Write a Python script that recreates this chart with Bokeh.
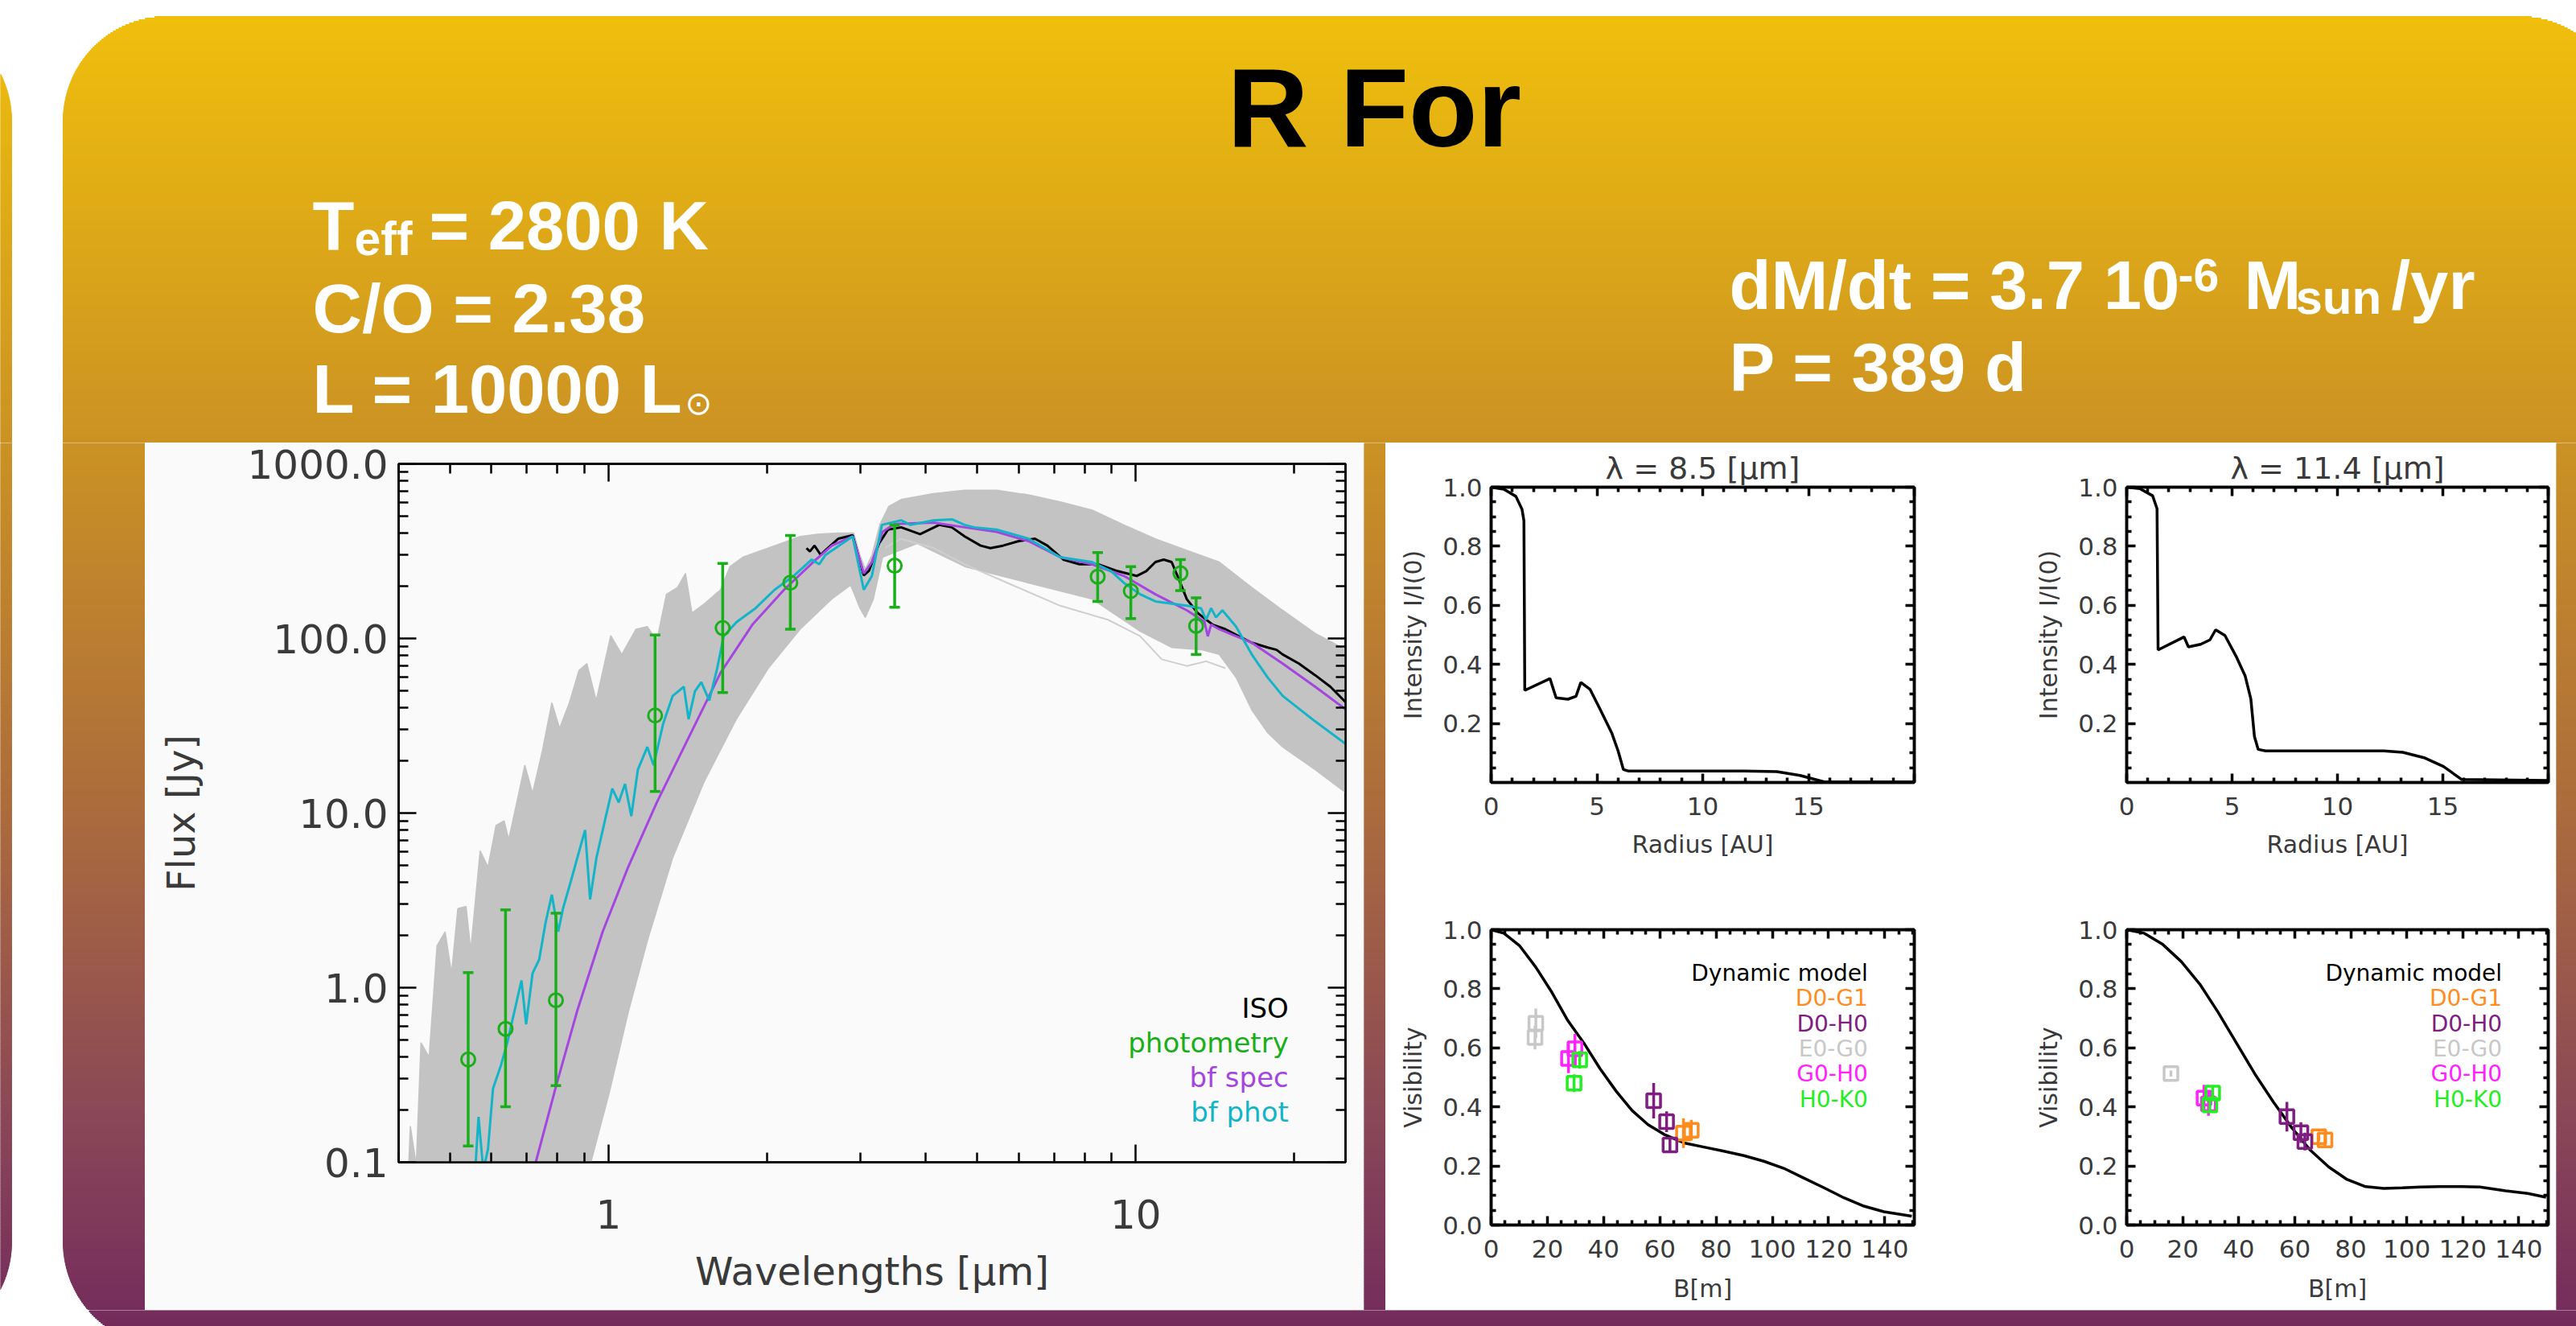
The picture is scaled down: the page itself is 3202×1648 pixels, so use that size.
import math
from bokeh.plotting import figure
from bokeh.layouts import column, row
from bokeh.models import (Range1d, FixedTicker, PrintfTickFormatter, CustomJSTickFormatter,
                          LinearAxis, LogAxis, Label, ColumnDataSource)
from bokeh.core.properties import value
from bokeh.embed import file_html
from bokeh.resources import INLINE

# ---------------------------------------------------------------- SED data
# photometry (wavelength in micron, flux in Jy, with error bar ends)
PHOT_WL = [0.542, 0.638, 0.795, 1.226, 1.647, 2.213, 3.49, 8.47, 9.79, 12.16, 13.02]
PHOT_F = [0.388, 0.581, 0.847, 36.2, 114.7, 208.5, 261, 226, 187, 236, 118]
PHOT_HI = [1.22, 2.79, 2.67, 104.7, 269, 389, 447, 310, 258, 283, 171]
PHOT_LO = [0.124, 0.208, 0.275, 13.3, 49, 113, 151, 163, 130, 188, 81]

# best fit to the photometry (bf phot)
BFPHOT_WL = [
    0.559, 0.567, 0.579, 0.591, 0.604, 0.625, 0.643, 0.661, 0.684, 0.698,
    0.718, 0.739, 0.760, 0.781, 0.803, 0.820, 0.849, 0.873, 0.903, 0.923,
    0.949, 0.989, 1.017, 1.046, 1.075, 1.105, 1.137, 1.185, 1.218, 1.270,
    1.324, 1.390, 1.419, 1.459, 1.500, 1.553, 1.608, 1.654, 1.749, 1.901,
    2.066, 2.245, 2.430, 2.510, 2.580, 2.904, 3.050, 3.160, 3.300, 3.590,
    3.740, 4.130, 4.480, 4.740, 4.940, 5.450, 6.260, 7.190, 8.260, 8.980,
    9.500, 10.20, 10.90, 12.50, 13.30, 13.60, 13.90, 14.20, 14.60, 15.50,
    16.60, 17.80, 19.00, 21.90, 25.10]
BFPHOT_F = [
    0.09, 0.182, 0.09, 0.119, 0.264, 0.357, 0.484, 0.70, 1.10, 0.616,
    1.21, 1.45, 2.36, 3.41, 2.09, 2.84, 4.09, 5.55, 8.0, 3.2,
    5.55, 9.6, 13.8, 11.5, 14.7, 9.6, 17.7, 23.9, 18.8, 32.5,
    46.9, 52.9, 34.5, 49.8, 56.2, 44.1, 67.5, 103, 124, 149,
    190, 228, 283, 266, 301, 384, 190, 228, 447, 475,
    447, 475, 481, 447, 433, 420, 373, 292, 274, 243,
    208, 179, 163, 154, 149, 128, 149, 132, 145, 117,
    81, 59.7, 46.9, 33.5, 24.7]

# best fit to the spectrum (bf spec)
BFSPEC_WL = [
    0.700, 0.728, 0.797, 0.873, 0.975, 1.090, 1.235, 1.419, 1.631, 1.875,
    2.153, 2.475, 2.653, 2.904, 3.050, 3.160, 3.310, 3.490, 4.130, 4.740,
    5.450, 6.260, 7.190, 8.260, 9.500, 10.90, 12.50, 13.50, 13.70, 13.90,
    14.40, 16.60, 19.00, 21.90, 25.10]
BFSPEC_F = [
    0.06, 0.10, 0.279, 0.741, 2.09, 4.91, 11.5, 27.0, 63.5, 120,
    190, 283, 340, 384, 236, 274, 408, 452, 461, 433,
    408, 361, 292, 266, 228, 179, 145, 125, 103, 120,
    113, 94.6, 71.8, 52.9, 39]

# ISO spectrum
ISO_WL = [
    2.375, 2.410, 2.459, 2.527, 2.580, 2.730, 2.904, 3.050, 3.120, 3.260,
    3.390, 3.590, 3.900, 4.240, 4.480, 4.740, 5.080, 5.300, 5.600, 6.000,
    6.440, 6.800, 7.290, 7.820, 8.500, 9.240, 10.04, 10.47, 10.90, 11.30,
    11.70, 12.10, 12.50, 13.10, 14.00, 14.80, 15.70, 16.60, 17.80, 18.50,
    19.00, 20.40, 21.90, 23.40, 25.10]
ISO_F = [
    329, 315, 340, 301, 320, 373, 390, 230, 244, 350,
    420, 433, 396, 447, 433, 384, 340, 329, 340, 361,
    373, 340, 283, 266, 266, 243, 228, 243, 274, 283,
    274, 215, 168, 140, 120, 113, 103, 94.6, 88.7, 86.1,
    81, 71.8, 61.6, 52.9, 42.7]

# envelope of the model grid
GRID_TOP_WL = [
    0.418, 0.421, 0.432, 0.441, 0.457, 0.473, 0.490, 0.504, 0.518, 0.537,
    0.548, 0.571, 0.591, 0.612, 0.634, 0.647, 0.670, 0.694, 0.718, 0.749,
    0.781, 0.808, 0.843, 0.879, 0.910, 0.948, 1.010, 1.060, 1.128, 1.185,
    1.235, 1.288, 1.352, 1.400, 1.440, 1.520, 1.631, 1.700, 1.798, 1.954,
    2.124, 2.310, 2.510, 2.730, 2.920, 3.000, 3.070, 3.160, 3.270, 3.400,
    3.590, 4.130, 4.740, 5.450, 6.260, 7.190, 8.270, 9.500, 10.90, 12.50,
    14.40, 16.60, 19.00, 21.90, 25.10]
GRID_TOP_F = [
    0.096, 0.161, 0.096, 0.484, 0.40, 1.74, 2.09, 1.21, 2.84, 2.92,
    1.64, 6.08, 4.91, 8.49, 9.03, 7.08, 11.5, 18.8, 13.0, 22.6,
    42.8, 30.6, 42.8, 65.5, 71.8, 44.1, 104, 81, 113, 117,
    97, 179, 196, 236, 140, 158, 190, 258, 292, 320,
    350, 384, 396, 401, 401, 300, 250, 300, 447, 570,
    625, 676, 706, 706, 664, 606, 543, 447, 372, 320,
    274, 196, 145, 107, 86]
GRID_BOT_WL = [
    0.923, 1.003, 1.090, 1.185, 1.324, 1.520, 1.748, 2.010, 2.310, 2.650,
    2.880, 3.000, 3.070, 3.180, 3.310, 3.850, 4.740, 6.260, 8.270, 10.20,
    11.70, 13.40, 14.40, 15.50, 16.60, 17.80, 19.00, 21.90, 25.10]
GRID_BOT_F = [
    0.096, 0.248, 0.72, 1.85, 5.55, 15.2, 34.5, 67.5, 113, 168,
    202, 149, 132, 168, 292, 350, 258, 208, 168, 110,
    88.8, 86, 81, 59.8, 39, 28.8, 23.9, 17.7, 13.0]
# lowest model of the grid
GRID_LOW_WL = [3.35, 3.59, 4.13, 4.74, 5.84, 7.19, 8.86, 10.2, 11.2, 12.5, 13.6, 14.8]
GRID_LOW_F = [330, 372, 330, 266, 202, 154, 128, 103, 76, 69.6, 74, 67.5]

SED_KEYS = ["ISO", "photometry", "bf spec", "bf phot"]

# ---------------------------------------------------------------- intensity profiles
I85_R = [0, 0.6, 1.17, 1.46, 1.55, 1.59, 2.78, 3.07, 3.63, 4.01, 4.24, 4.67, 5.15,
         5.71, 6.0, 6.25, 6.47, 11.96, 13.5, 14.6, 15.74, 20]
I85_I = [1.0, 0.993, 0.969, 0.925, 0.886, 0.312, 0.352, 0.287, 0.282, 0.292, 0.339, 0.316,
         0.248, 0.166, 0.107, 0.044, 0.039, 0.039, 0.037, 0.024, 0.002, 0.002]
I114_R = [0, 0.62, 1.23, 1.44, 1.49, 2.72, 2.93, 3.51, 3.95, 4.22, 4.66, 5.18, 5.62,
          5.89, 6.06, 6.24, 6.59, 12.2, 13.1, 14.15, 15.03, 15.9, 20]
I114_I = [1.0, 0.995, 0.971, 0.927, 0.449, 0.493, 0.459, 0.468, 0.483, 0.517, 0.498, 0.429,
          0.361, 0.283, 0.156, 0.112, 0.107, 0.107, 0.102, 0.083, 0.054, 0.01, 0.007]

# ---------------------------------------------------------------- visibilities
V85_B = [0, 4.55, 10.2, 15.9, 21.6, 27.3, 33, 38.7, 44.4, 50.1, 55.8, 61.5, 68.6, 75.7,
         82.8, 89.9, 97, 104.1, 111.2, 118.4, 125.5, 132.6, 139.7, 149.6]
V85_V = [1.0, 0.988, 0.945, 0.873, 0.788, 0.692, 0.616, 0.53, 0.454, 0.388, 0.34, 0.307,
         0.278, 0.264, 0.25, 0.235, 0.216, 0.192, 0.159, 0.126, 0.092, 0.064, 0.045, 0.030]
V114_B = [0, 6.3, 12.9, 19.5, 26.1, 32.6, 39.2, 45.8, 52.4, 58.9, 65.5, 72.1, 78.7, 85.3,
          91.8, 98.4, 105, 111.6, 119.5, 126.1, 135.3, 143.2, 149.7]
V114_V = [1.0, 0.988, 0.95, 0.892, 0.816, 0.721, 0.616, 0.511, 0.416, 0.33, 0.254, 0.197,
          0.154, 0.13, 0.124, 0.126, 0.129, 0.13, 0.13, 0.129, 0.116, 0.107, 0.094]

BASELINES = ["D0-G1", "D0-H0", "E0-G0", "G0-H0", "H0-K0"]
BASELINE_COLORS = ["#ff8c1e", "#7e1e80", "#c8c8c8", "#ff22ff", "#22ee22"]

# measured visibilities at 8.5 micron: baseline -> (B [m], V, error)
OBS85 = {
    "D0-G1": ([68.4, 71.2], [0.311, 0.321], [0.05, 0.035]),
    "D0-H0": ([57.8, 62.4, 63.6], [0.421, 0.35, 0.271], [0.06, 0.035, 0.02]),
    "E0-G0": ([15.9, 15.6], [0.683, 0.635], [0.05, 0.04]),
    "G0-H0": ([29.8, 27.5], [0.597, 0.564], [0.05, 0.05]),
    "H0-K0": ([31.5, 29.5], [0.559, 0.48], [0.03, 0.03]),
}
# measured visibilities at 11.4 micron
OBS114 = {
    "D0-G1": ([68.6, 70.8], [0.299, 0.288], [0.015, 0.02]),
    "D0-H0": ([57.2, 62.2, 63.6], [0.367, 0.313, 0.283], [0.05, 0.035, 0.03]),
    "E0-G0": ([15.8], [0.513], [0.01]),
    "G0-H0": ([27.6, 29.2], [0.43, 0.41], [0.045, 0.04]),
    "H0-K0": ([30.7, 29.7], [0.447, 0.407], [0.02, 0.02]),
}

# ---------------------------------------------------------------- styling
TICK_FONT = "DejaVu Sans"
HEAD_FONT = "Liberation Sans"
INK = "#3a3a3a"
GREEN = "#1aaf1a"
PURPLE = "#a545e0"
CYAN = "#14b4c8"
GRID_GREY = "#c3c3c3"

PAGE_W, PAGE_H = 3202, 1648
HEAD_H = 550          # header band
BODY_H = 1078         # band holding the plots

# rounded slide panels: left, top, right, bottom, radius
PANELS = [(78, 20, 3260, 1673, 130), (-3000, 20, 14, 1673, 130)]
GRADIENT = [(0, (241, 193, 11)), (560, (202, 145, 36)), (1000, (172, 108, 60)),
            (1400, (137, 70, 88)), (1648, (116, 43, 92))]


def unalign(p):
    try:
        p.frame_align = False
    except AttributeError:
        pass
    return p


def shade(y):
    for (ya, ca), (yb, cb) in zip(GRADIENT, GRADIENT[1:]):
        if y <= yb:
            t = (y - ya) / (yb - ya)
            return "#%02x%02x%02x" % tuple(round(a + (b - a) * t) for a, b in zip(ca, cb))
    return "#%02x%02x%02x" % GRADIENT[-1][1]


def page_tile(x0, x1, y0, y1, step=2):
    """A piece of the slide background in page pixel coordinates."""
    f = figure(width=x1 - x0, height=y1 - y0, x_range=Range1d(x0, x1), y_range=Range1d(y1, y0),
               title=None, output_backend="svg", toolbar_location=None, min_border=0,
               x_axis_location=None, y_axis_location=None,
               background_fill_color="white", border_fill_color="white", outline_line_color=None)
    unalign(f)
    f.grid.visible = False
    lefts, rights, tops, bottoms, colors = [], [], [], [], []
    for yt in range(y0, y1, step):
        yc = yt + step / 2
        col = shade(yc)
        for pl, pt, pr, pb, r in PANELS:
            if yc < pt or yc > pb:
                continue
            if yc < pt + r:
                d = pt + r - yc
            elif yc > pb - r:
                d = yc - (pb - r)
            else:
                d = 0
            inset = r - math.sqrt(max(r * r - d * d, 0))
            a, b = max(pl + inset, x0), min(pr - inset, x1)
            if a < b:
                lefts.append(a); rights.append(b)
                tops.append(yt); bottoms.append(yt + step)
                colors.append(col)
    if lefts:
        f.quad(left=lefts, right=rights, top=tops, bottom=bottoms,
               fill_color=colors, line_color=colors, line_width=1)
    return f


def style_axis(ax, ticks, minor, fmt, major_len, minor_len, lw, font_px, standoff):
    ax.ticker = FixedTicker(ticks=ticks, minor_ticks=minor)
    ax.formatter = fmt
    ax.axis_line_color = "black"
    ax.axis_line_width = lw
    ax.major_tick_in = major_len
    ax.major_tick_out = 0
    ax.minor_tick_in = minor_len
    ax.minor_tick_out = 0
    ax.major_tick_line_color = "black"
    ax.major_tick_line_width = lw
    ax.minor_tick_line_color = "black"
    ax.minor_tick_line_width = lw
    ax.major_label_text_font = TICK_FONT
    ax.major_label_text_font_size = f"{font_px}px"
    ax.major_label_text_color = INK
    ax.major_label_standoff = standoff


def boxed(p, log, xt, xm, yt, ym, xfmt, yfmt, major_len, minor_len, lw, font_px,
          x_stand, y_stand, xlabel, ylabel, label_px, xlab_stand, ylab_stand):
    axis_type = LogAxis if log else LinearAxis
    top, right = axis_type(), axis_type()
    p.add_layout(top, "above")
    p.add_layout(right, "right")
    blank = CustomJSTickFormatter(code="return ''")
    style_axis(p.below[0], xt, xm, xfmt, major_len, minor_len, lw, font_px, x_stand)
    style_axis(p.left[0], yt, ym, yfmt, major_len, minor_len, lw, font_px, y_stand)
    style_axis(top, xt, xm, blank, major_len, minor_len, lw, 0, 0)
    style_axis(right, yt, ym, blank, major_len, minor_len, lw, 0, 0)
    for ax, text, stand in [(p.below[0], xlabel, xlab_stand), (p.left[0], ylabel, ylab_stand)]:
        ax.axis_label = text
        ax.axis_label_text_font = TICK_FONT
        ax.axis_label_text_font_size = f"{label_px}px"
        ax.axis_label_text_font_style = "normal"
        ax.axis_label_text_color = INK
        ax.axis_label_standoff = stand
    p.outline_line_color = "black"
    p.outline_line_width = lw
    p.grid.visible = False


# ---------------------------------------------------------------- header
header = page_tile(0, PAGE_W, 0, HEAD_H)
BASELINE_LIFT = 0.335   # label anchor sits this many em above the drawn baseline


def say(x, y, text, px, color="white", font=HEAD_FONT, style="bold"):
    header.add_layout(Label(x=x, y=y - BASELINE_LIFT * px, text=text, text_font=font,
                            text_font_size=f"{px}px", text_font_style=style, text_color=color,
                            text_baseline="alphabetic", text_align="left"))


say(1525, 180, "R For", 140, color="black")
say(388, 308, "T", 85)
say(440, 316, "eff", 59)
say(533, 308, "= 2800 K", 85)
say(388, 411, "C/O = 2.38", 85)
say(388, 511, "L = 10000 L", 85)
say(851, 514, "⊙", 40, font="DejaVu Sans", style="normal")
say(2149, 382, "dM/dt = 3.7 10", 85)
say(2707, 361, "-6", 57)
say(2789, 382, "M", 85)
say(2853, 389, "sun", 60)
say(2972, 382, "/yr", 85)
say(2149, 484, "P = 389 d", 85)

# ---------------------------------------------------------------- SED
SED_BG = "#fafafa"
sed = figure(width=1515, height=BODY_H, x_axis_type="log", y_axis_type="log",
             x_range=Range1d(0.4, 25), y_range=Range1d(0.1, 1000), title=None,
             output_backend="svg", toolbar_location=None,
             min_border_left=315, min_border_right=23, min_border_top=26, min_border_bottom=184,
             background_fill_color=SED_BG, border_fill_color=SED_BG)
unalign(sed)

sed_xminor = [m / 10 for m in range(4, 10)] + list(range(2, 10)) + [20]
sed_yminor = [m * 10.0 ** k for k in range(-1, 3) for m in range(2, 10)]
boxed(sed, True, [1, 10], sed_xminor, [0.1, 1, 10, 100, 1000], sed_yminor,
      PrintfTickFormatter(format="%d"), PrintfTickFormatter(format="%.1f"),
      22, 12, 2.5, 50, 46, 13, "Wavelengths [μm]", "Flux [Jy]", 48, 22, 52)

band_x = GRID_TOP_WL + GRID_BOT_WL[::-1] + [GRID_TOP_WL[0]]
band_y = GRID_TOP_F + GRID_BOT_F[::-1] + [GRID_TOP_F[0]]
sed.patch(band_x, band_y, fill_color=GRID_GREY, line_color=GRID_GREY, line_width=1.5)
sed.line(GRID_LOW_WL, GRID_LOW_F, line_color="#cfcfcf", line_width=2)
sed.line(ISO_WL, ISO_F, line_color="black", line_width=3)
sed.line(BFSPEC_WL, BFSPEC_F, line_color=PURPLE, line_width=3)
sed.line(BFPHOT_WL, BFPHOT_F, line_color=CYAN, line_width=3)

phot_src = ColumnDataSource(dict(x=PHOT_WL, y=PHOT_F, hi=PHOT_HI, lo=PHOT_LO))
sed.segment(x0="x", y0="lo", x1="x", y1="hi", source=phot_src, line_color=GREEN, line_width=3.5)
sed.scatter("x", "hi", source=phot_src, marker="dash", size=13, line_color=GREEN, line_width=3.5)
sed.scatter("x", "lo", source=phot_src, marker="dash", size=13, line_color=GREEN, line_width=3.5)
sed.scatter("x", "y", source=phot_src, marker="circle", size=17,
            fill_color=None, line_color=GREEN, line_width=3)

key_colors = ["black", GREEN, PURPLE, CYAN]
sed.text(x=[19.5] * len(SED_KEYS), y=[0.76 * 0.635 ** i for i in range(len(SED_KEYS))],
         text=SED_KEYS, text_color=key_colors, text_align="right", text_baseline="middle",
         text_font=value(TICK_FONT), text_font_size="34px")

# ---------------------------------------------------------------- small panels
COL_W = [778, 677]
COL_BORDERS = [(131, 121), (143, 10)]


def intensity_panel(col, r, i, title):
    left, right = COL_BORDERS[col]
    p = figure(width=COL_W[col], height=540, x_range=Range1d(0, 20), y_range=Range1d(0, 1.0),
               title=title, output_backend="svg", toolbar_location=None,
               min_border_left=left, min_border_right=right, min_border_top=55,
               min_border_bottom=118, background_fill_color="white", border_fill_color="white")
    unalign(p)
    boxed(p, False, [0, 5, 10, 15, 20], [v for v in range(1, 20) if v % 5],
          [0.2, 0.4, 0.6, 0.8, 1.0], [k * 0.05 for k in range(1, 20) if k % 4],
          PrintfTickFormatter(format="%d"), PrintfTickFormatter(format="%.1f"),
          11, 6, 3.5, 31, 18, 11, "Radius [AU]", "Intensity I/I(0)", 30, 16, 16)
    p.below[0].major_label_overrides = {20: ""}
    p.title.align = "center"
    p.title.text_font = TICK_FONT
    p.title.text_font_size = "38px"
    p.title.text_font_style = "normal"
    p.title.text_color = INK
    p.title.standoff = 4
    p.line(r, i, line_color="black", line_width=3.5)
    return p


def visibility_panel(col, b, v, obs):
    left, right = COL_BORDERS[col]
    p = figure(width=COL_W[col], height=BODY_H - 540, x_range=Range1d(0, 150.5),
               y_range=Range1d(0, 1.0), title=None, output_backend="svg", toolbar_location=None,
               min_border_left=left, min_border_right=right, min_border_top=65,
               min_border_bottom=106, background_fill_color="white", border_fill_color="white")
    unalign(p)
    boxed(p, False, list(range(0, 160, 20)), [v5 for v5 in range(5, 155, 5) if v5 % 20],
          [0.0, 0.2, 0.4, 0.6, 0.8, 1.0], [k * 0.05 for k in range(1, 20) if k % 4],
          PrintfTickFormatter(format="%d"), PrintfTickFormatter(format="%.1f"),
          11, 6, 3.5, 31, 18, 11, "B[m]", "Visibility", 30, 18, 16)
    p.line(b, v, line_color="black", line_width=3.5)
    for name, color in zip(BASELINES, BASELINE_COLORS):
        bb, vv, ee = obs[name]
        p.segment(x0=bb, y0=[a - e for a, e in zip(vv, ee)], x1=bb,
                  y1=[a + e for a, e in zip(vv, ee)], line_color=color, line_width=3.5)
        p.scatter(bb, vv, marker="square", size=17, fill_color=None,
                  line_color=color, line_width=3.5)
    labels = ["Dynamic model"] + BASELINES
    colors = ["black"] + BASELINE_COLORS
    p.text(x=[134] * len(labels), y=[0.853 - 0.0855 * k for k in range(len(labels))],
           text=labels, text_color=colors, text_align="right", text_baseline="middle",
           text_font=value(TICK_FONT), text_font_size="28px")
    return p


i85 = intensity_panel(0, I85_R, I85_I, "λ = 8.5 [μm]")
i114 = intensity_panel(1, I114_R, I114_I, "λ = 11.4 [μm]")
v85 = visibility_panel(0, V85_B, V85_V, OBS85)
v114 = visibility_panel(1, V114_B, V114_V, OBS114)

# ---------------------------------------------------------------- page assembly
left_strip = page_tile(0, 180, HEAD_H, HEAD_H + BODY_H)
mid_gap = page_tile(1695, 1722, HEAD_H, HEAD_H + BODY_H)
right_gap = page_tile(3177, PAGE_W, HEAD_H, HEAD_H + BODY_H)
footer = page_tile(0, PAGE_W, HEAD_H + BODY_H, PAGE_H)

panels = column(row(i85, i114), row(v85, v114))
page = column(header, row(left_strip, sed, mid_gap, panels, right_gap), footer)

open("out.html", "w").write(file_html(page, INLINE))
